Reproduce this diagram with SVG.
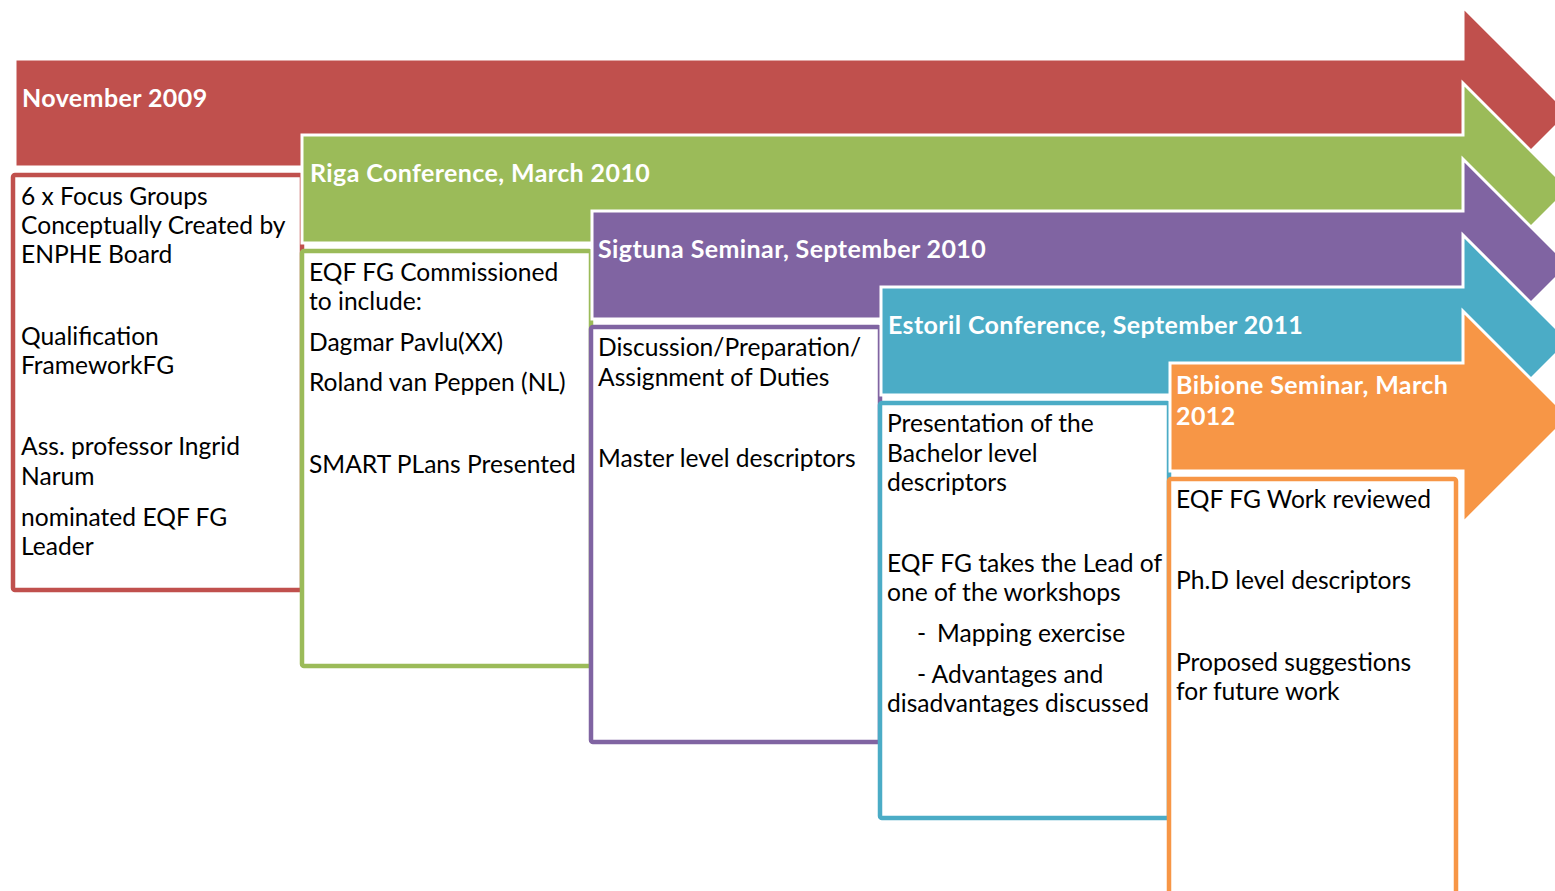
<svg xmlns="http://www.w3.org/2000/svg" width="1555" height="891" viewBox="0 0 1555 891">
  <style>
    .arrow { stroke: #ffffff; stroke-width: 3; stroke-linejoin: miter; }
    .box { fill: #ffffff; stroke-width: 4.5; }
    .head { font-family: Lato, "Open Sans", sans-serif; font-weight: bold; font-size: 25px; letter-spacing: 0.4px; fill: #ffffff; }
    .body { font-family: Lato, "Open Sans", sans-serif; font-size: 24.6px; fill: #000000; }
    .red { fill: #C0504D; } .redS { stroke: #C0504D; }
    .green { fill: #9BBB59; } .greenS { stroke: #9BBB59; }
    .purple { fill: #8064A2; } .purpleS { stroke: #8064A2; }
    .blue { fill: #4BACC6; } .blueS { stroke: #4BACC6; }
    .orange { fill: #F79646; } .orangeS { stroke: #F79646; }
  </style>
  <rect width="1555" height="891" fill="#ffffff"/>

  <!-- November 2009 -->
  <g id="step-nov-2009">
    <path class="arrow red" d="M15 59 H1463 V7 L1569 113 L1463 219 V167 H15 Z"/>
    <text class="head" x="22" y="107">November 2009</text>
    <rect class="box redS" x="13" y="175" width="289" height="415" rx="2"/>
    <text class="body">
      <tspan x="21" y="205">6 x Focus Groups</tspan>
      <tspan x="21" y="234">Conceptually Created by</tspan>
      <tspan x="21" y="263">ENPHE Board</tspan>
      <tspan x="21" y="345">Qualification</tspan>
      <tspan x="21" y="374">FrameworkFG</tspan>
      <tspan x="21" y="455">Ass. professor Ingrid</tspan>
      <tspan x="21" y="485">Narum</tspan>
      <tspan x="21" y="526">nominated EQF FG</tspan>
      <tspan x="21" y="555">Leader</tspan>
    </text>
  </g>

  <!-- Riga Conference -->
  <g id="step-riga-2010">
    <path class="arrow green" d="M302 135 H1463 V83 L1569 189 L1463 295 V243 H302 Z"/>
    <text class="head" x="310" y="182">Riga Conference, March 2010</text>
    <rect class="box greenS" x="302" y="251" width="289" height="415" rx="2"/>
    <text class="body">
      <tspan x="309" y="281">EQF FG Commissioned</tspan>
      <tspan x="309" y="310">to include:</tspan>
      <tspan x="309" y="351">Dagmar Pavlu(XX)</tspan>
      <tspan x="309" y="391">Roland van Peppen (NL)</tspan>
      <tspan x="309" y="473">SMART PLans Presented</tspan>
    </text>
  </g>

  <!-- Sigtuna Seminar -->
  <g id="step-sigtuna-2010">
    <path class="arrow purple" d="M592 211 H1463 V159 L1569 265 L1463 371 V319 H592 Z"/>
    <text class="head" x="598" y="258">Sigtuna Seminar, September 2010</text>
    <rect class="box purpleS" x="591" y="327" width="289" height="415" rx="2"/>
    <text class="body">
      <tspan x="598" y="356">Discussion/Preparation/</tspan>
      <tspan x="598" y="386">Assignment of Duties</tspan>
      <tspan x="598" y="467">Master level descriptors</tspan>
    </text>
  </g>

  <!-- Estoril Conference -->
  <g id="step-estoril-2011">
    <path class="arrow blue" d="M881 287 H1463 V235 L1569 341 L1463 447 V395 H881 Z"/>
    <text class="head" x="888" y="334">Estoril Conference, September 2011</text>
    <rect class="box blueS" x="880" y="403" width="289" height="415" rx="2"/>
    <text class="body">
      <tspan x="887" y="432">Presentation of the</tspan>
      <tspan x="887" y="462">Bachelor level</tspan>
      <tspan x="887" y="491">descriptors</tspan>
      <tspan x="887" y="572">EQF FG takes the Lead of</tspan>
      <tspan x="887" y="601">one of the workshops</tspan>
      <tspan x="917" y="642">-</tspan>
      <tspan x="937" y="642">Mapping exercise</tspan>
      <tspan x="917" y="683">- Advantages and</tspan>
      <tspan x="887" y="712">disadvantages discussed</tspan>
    </text>
  </g>

  <!-- Bibione Seminar -->
  <g id="step-bibione-2012">
    <path class="arrow orange" d="M1170 363 H1463 V311 L1569 417 L1463 523 V471 H1170 Z"/>
    <text class="head">
      <tspan x="1176" y="394">Bibione Seminar, March</tspan>
      <tspan x="1176" y="425">2012</tspan>
    </text>
    <rect class="box orangeS" x="1169" y="479" width="287" height="440" rx="2"/>
    <text class="body">
      <tspan x="1176" y="508">EQF FG Work reviewed</tspan>
      <tspan x="1176" y="589">Ph.D level descriptors</tspan>
      <tspan x="1176" y="671">Proposed suggestions</tspan>
      <tspan x="1176" y="700">for future work</tspan>
    </text>
  </g>

  <g id="connectors"/>
</svg>
